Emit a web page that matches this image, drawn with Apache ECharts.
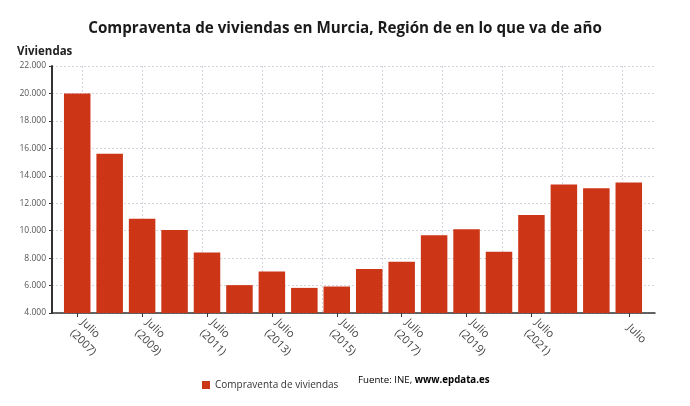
<!DOCTYPE html>
<html>
<head>
<meta charset="utf-8">
<script src="https://cdn.jsdelivr.net/npm/echarts@6/dist/echarts.min.js"></script>
<style>
html,body{margin:0;padding:0;background:#fff;}
#chart{width:690px;height:406px;}
</style>
</head>
<body>
<div id="chart"></div>
<script>
const years = [2007,2008,2009,2010,2011,2012,2013,2014,2015,2016,2017,2018,2019,2020,2021,2022,2023,2024];
const categories = ['Julio\n(2007)','Julio\n(2008)','Julio\n(2009)','Julio\n(2010)','Julio\n(2011)','Julio\n(2012)','Julio\n(2013)','Julio\n(2014)','Julio\n(2015)','Julio\n(2016)','Julio\n(2017)','Julio\n(2018)','Julio\n(2019)','Julio\n(2020)','Julio\n(2021)','Julio\n(2022)','Julio\n(2023)','Julio'];
const shownLabelIdx = [0,2,4,6,8,10,12,14,17];
const values = [20000,15610,10860,10050,8410,6030,7020,5830,5930,7200,7730,9660,10100,8460,11150,13370,13100,13510];
const yTicks = {min:4000, max:22000, interval:2000};
const titleText = 'Compraventa de viviendas en Murcia, Región de en lo que va de año';
const yName = 'Viviendas';
const seriesName = 'Compraventa de viviendas';
const sourceText = 'Fuente: INE, ';
const sourceBold = 'www.epdata.es';

const FONT = "'Open Sans', 'Noto Sans', sans-serif";
const RED = '#cc3516';

const chart = echarts.init(document.getElementById('chart'), null, {renderer:'canvas'});
const fmt = v => String(v).replace(/\B(?=(\d{3})+(?!\d))/g, '.');

chart.setOption({
  animation:false,
  backgroundColor:'#fff',
  textStyle:{fontFamily:FONT},
  title:{
    text:titleText, left:'center', top:16,
    textStyle:{fontFamily:FONT, fontSize:15.2, fontWeight:'bold', color:'#1a1a1a'}
  },
  grid:[
    {left:52, right:35, top:66, bottom:93},
    {left:61, right:45, top:66, bottom:93},
    {left:22, right:35, top:66, bottom:93}
  ],
  xAxis:[
    {gridIndex:0, type:'value', min:0, max:603,
     axisLine:{show:true, onZero:false, lineStyle:{color:'#333', width:1.5}},
     axisTick:{show:false}, axisLabel:{show:false}, splitLine:{show:false}},
    {gridIndex:1, type:'category', data:categories,
     axisLine:{show:false},
     axisTick:{show:true, alignWithLabel:true, length:4, lineStyle:{color:'#333'},
       interval:(i)=>shownLabelIdx.includes(i)},
     axisLabel:{interval:(i)=>shownLabelIdx.includes(i), rotate:-45, fontSize:11, color:'#444', margin:13, lineHeight:15, fontFamily:FONT},
     splitLine:{show:false}},
    {gridIndex:2, type:'value', min:0, max:633, interval:60,
     axisLine:{show:false}, axisTick:{show:false}, axisLabel:{show:false},
     splitLine:{show:true, showMinLine:false, showMaxLine:false, lineStyle:{type:[2,2], color:'#d4d4dc', width:1}}}
  ],
  yAxis:[
    {gridIndex:0, type:'value', min:yTicks.min, max:yTicks.max, interval:yTicks.interval,
     axisLine:{show:true, onZero:false, lineStyle:{color:'#333', width:2}},
     axisTick:{show:true, length:3, lineStyle:{color:'#333'}},
     axisLabel:{formatter:fmt, fontSize:8.5, color:'#555', margin:6, fontFamily:FONT},
     splitLine:{show:true, lineStyle:{type:[2,2], color:'#d4d4dc', width:1}}},
    {gridIndex:1, type:'value', min:yTicks.min, max:yTicks.max, interval:yTicks.interval, show:false, splitLine:{show:false}},
    {gridIndex:2, type:'value', min:yTicks.min, max:yTicks.max, show:false, splitLine:{show:false}}
  ],
  legend:{
    left:197, top:375, itemWidth:8, itemHeight:8, icon:'rect',
    textStyle:{fontFamily:FONT, fontSize:10, color:'#333'},
    data:[seriesName]
  },
  graphic:[
    {type:'text', left:17, top:46,
     style:{text:yName, fontFamily:FONT, fontSize:11.5, fontWeight:'bold', fill:'#222'}},
    {type:'text', left:358, top:375,
     style:{text:'{a|'+sourceText+'}{b|'+sourceBold+'}',
       rich:{a:{fontFamily:FONT, fontSize:9.7, color:'#333'}, b:{fontFamily:FONT, fontSize:9.7, fontWeight:'bold', color:'#222'}}}}
  ],
  series:[
    {name:seriesName, type:'bar', xAxisIndex:1, yAxisIndex:1, data:values, barWidth:26.5,
     itemStyle:{color:RED}}
  ]
});
</script>
</body>
</html>
